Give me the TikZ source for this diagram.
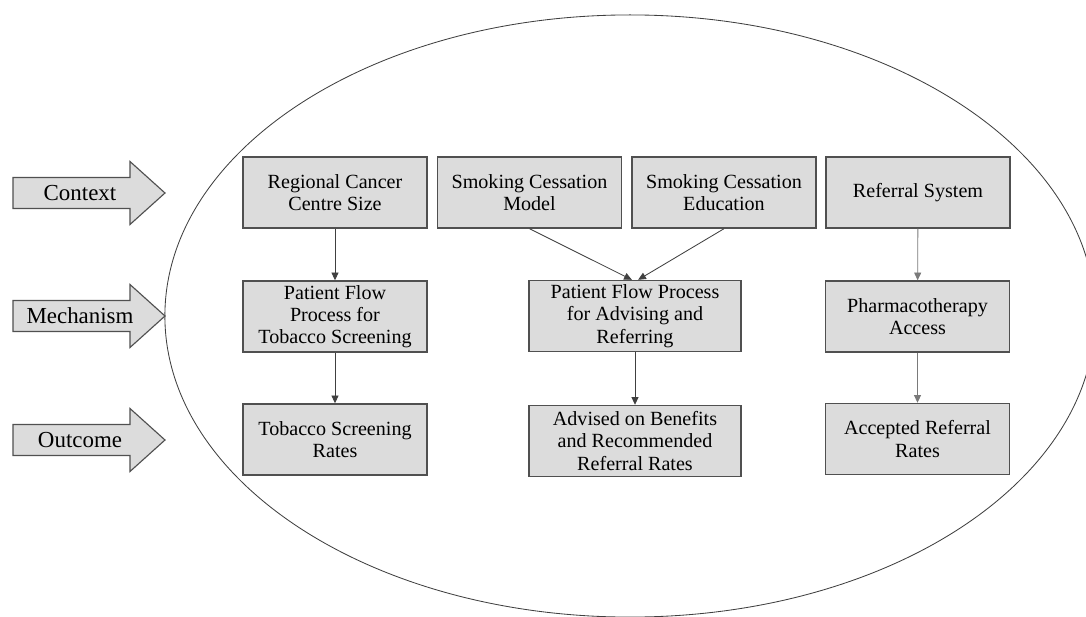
\documentclass[tikz,border=0pt]{standalone}
\usepackage{fontspec}
\setmainfont{Liberation Serif}
\usetikzlibrary{arrows.meta}

\definecolor{boxfill}{HTML}{DCDCDC}
\definecolor{boxline}{HTML}{505050}
\definecolor{linkdark}{HTML}{404040}
\definecolor{linklight}{HTML}{7A7A7A}

\tikzset{
  box/.style={draw=boxline, fill=boxfill, line width=1pt, minimum width=4.6cm,
    minimum height=1.775cm, align=center, inner sep=2pt,
    font=\fontsize{14.3}{15.8}\selectfont},
  widebox/.style={box, minimum width=5.3cm},
  link/.style={draw=linkdark, line width=0.6pt, -{Triangle[length=5.5pt,width=5pt]}},
  lightlink/.style={link, draw=linklight},
  bigarrow/.style={draw=boxline, fill=boxfill, line width=0.8pt},
  arrowtext/.style={font=\fontsize{16.3}{18}\selectfont, inner sep=0pt}
}

\begin{document}
\begin{tikzpicture}[x=0.025cm, y=-0.025cm]
  \clip (0,0) rectangle (1086,617);

  % Draw the big ellipse
  \draw[linkdark, line width=0.6pt] (630,316) ellipse [x radius=11.625cm, y radius=7.525cm];

  % Draw the block arrows on the left
  \foreach \y/\name/\txt in {193/context/Context, 316/mechanism/Mechanism, 440/outcome/Outcome}{
    \draw[bigarrow] (13,\y-15.5) -- (130,\y-15.5) -- (130,\y-31.5) -- (165,\y)
      -- (130,\y+31.5) -- (130,\y+15.5) -- (13,\y+15.5) -- cycle;
    \node[arrowtext] (\name) at (80,\y) {\txt};
  }

  % Context row
  \node[box] (centre) at (335,192.5) {Regional Cancer\\Centre Size};
  \node[box] (model) at (529.5,192.5) {Smoking Cessation\\Model};
  \node[box] (education) at (724,192.5) {Smoking Cessation\\Education};
  \node[box] (system) at (918,192.5) {Referral System};

  % Mechanism row
  \node[box] (screenflow) at (335,316.5) {Patient Flow\\Process for\\Tobacco Screening};
  \node[widebox] (adviseflow) at (635,316) {Patient Flow Process\\for Advising and\\Referring};
  \node[box] (pharma) at (917.5,316.5) {Pharmacotherapy\\Access};

  % Outcome row
  \node[box] (screenrate) at (335,439.5) {Tobacco Screening\\Rates};
  \node[widebox] (adviserate) at (635,441) {Advised on Benefits\\and Recommended\\Referral Rates};
  \node[box] (acceptrate) at (917.5,439) {Accepted Referral\\Rates};

  % Draw the links
  \draw[link] (centre) -- (screenflow);
  \draw[link] (screenflow) -- (screenrate);
  \draw[link] (model.south) -- (adviseflow.95);
  \draw[link] (education.south) -- (adviseflow.85);
  \draw[link] (adviseflow) -- (adviserate);
  \draw[lightlink] (system) -- (pharma);
  \draw[lightlink] (pharma) -- (acceptrate);
\end{tikzpicture}
\end{document}
